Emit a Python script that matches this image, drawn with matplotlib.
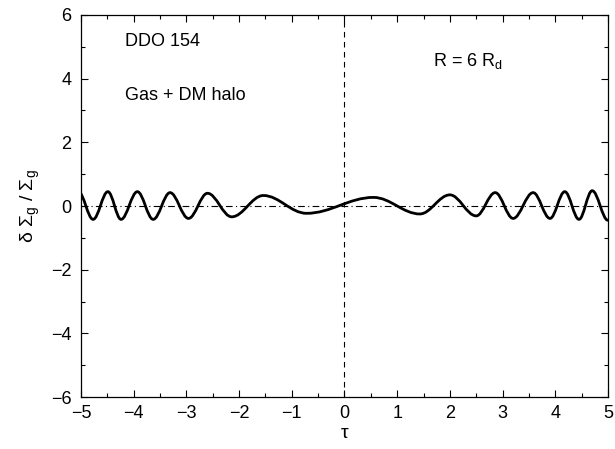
import matplotlib
matplotlib.use("Agg")
import matplotlib.pyplot as plt
from matplotlib.path import Path
from matplotlib.patches import PathPatch

plt.rcParams['font.family'] = ['Liberation Sans', 'DejaVu Sans']
plt.rcParams['mathtext.fontset'] = 'custom'
plt.rcParams['mathtext.rm'] = 'Liberation Sans'
plt.rcParams['mathtext.it'] = 'Liberation Sans'

# extrema of the curve (tau, delta Sigma / Sigma)
ext_tau = [-5.05, -4.77, -4.49, -4.24, -3.93, -3.63, -3.31, -2.96, -2.60, -2.14,
           -1.54, -0.72, 0.55, 1.43, 2.00, 2.50, 2.86, 3.20, 3.58, 3.90,
           4.18, 4.45, 4.70, 5.00]
ext_val = [0.45, -0.42, 0.45, -0.42, 0.45, -0.42, 0.42, -0.39, 0.40, -0.34,
           0.33, -0.23, 0.27, -0.25, 0.35, -0.31, 0.42, -0.39, 0.42, -0.39,
           0.45, -0.42, 0.48, -0.45]

xticks = [-5, -4, -3, -2, -1, 0, 1, 2, 3, 4, 5]
yticks = [-6, -4, -2, 0, 2, 4, 6]

fig = plt.figure(figsize=(6.15, 4.49), dpi=100)
ax = fig.add_axes([0.1317, 0.1158, 0.8569, 0.8508])

# smooth curve: cubic Bezier pieces between extrema (flat tangents at extrema)
verts = [(ext_tau[0], ext_val[0])]
codes = [Path.MOVETO]
k = 0.364
for i in range(len(ext_tau) - 1):
    x0, y0 = ext_tau[i], ext_val[i]
    x1, y1 = ext_tau[i + 1], ext_val[i + 1]
    dx = x1 - x0
    verts += [(x0 + k * dx, y0), (x1 - k * dx, y1), (x1, y1)]
    codes += [Path.CURVE4] * 3
ax.add_patch(PathPatch(Path(verts, codes), fill=False, lw=2, color='black'))

ax.axhline(0, color='black', lw=0.8, ls='-.', dashes=(6, 3, 1, 3))
ax.axvline(0, color='black', lw=0.8, ls='--', dashes=(5, 4))

ax.set_xlim(-5, 5)
ax.set_ylim(-6, 6)
ax.set_xticks(xticks)
ax.set_yticks(yticks)
ax.set_xticks([x + 0.5 for x in xticks[:-1]], minor=True)
ax.set_yticks([y + 1 for y in yticks[:-1]], minor=True)
ax.tick_params(which='both', direction='in', top=True, right=True, labelsize=13)
ax.tick_params(which='major', length=5, width=0.8)
ax.tick_params(axis='y', which='major', pad=7)
ax.tick_params(axis='x', which='major', pad=6)
ax.tick_params(which='minor', length=3, width=0.8)
for s in ax.spines.values():
    s.set_linewidth(0.9)

ax.set_xlabel(r'$\tau$', fontsize=14, labelpad=2)
ax.set_ylabel(r'$\delta\ \Sigma_g\ /\ \Sigma_g$', fontsize=14, labelpad=6)

ax.text(-4.17, 5.17, 'DDO 154', fontsize=13, va='center')
ax.text(-4.17, 3.46, 'Gas + DM halo', fontsize=13, va='center')
ax.text(1.68, 4.55, r'R = 6 R$_\mathregular{d}$', fontsize=13, va='center')

fig.savefig('out.png', dpi=100)
